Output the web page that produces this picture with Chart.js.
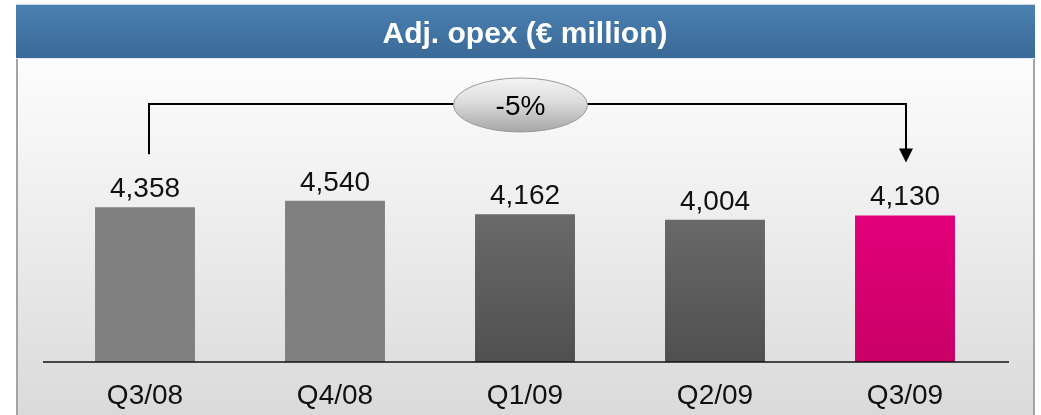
<!DOCTYPE html>
<html><head><meta charset="utf-8">
<script src="https://cdn.jsdelivr.net/npm/chart.js@4"></script>
<style>html,body{margin:0;padding:0;background:#fff;overflow:hidden}#wrap{width:1041px;height:415px;position:relative}</style>
</head><body><div id="wrap"><canvas id="c" width="1041" height="415"></canvas></div>
<script>
const categories = ['Q3/08', 'Q4/08', 'Q1/09', 'Q2/09', 'Q3/09'];
const opexValues = [4358, 4540, 4162, 4004, 4130];
const valueLabels = ['4,358', '4,540', '4,162', '4,004', '4,130'];
const barKinds = ['light', 'light', 'dark', 'dark', 'highlight'];
const changeLabel = '-5%';
const titleText = 'Adj. opex (\u20AC million)';

const LABEL_FAMILY = '"Liberation Sans", Arial, sans-serif';
const LABEL_FONT = '28px ' + LABEL_FAMILY;

function barColor(ctx) {
  const chart = ctx.chart;
  const area = chart.chartArea;
  const kind = barKinds[ctx.dataIndex];
  if (kind === 'light') return '#808080';
  if (!area) return kind === 'dark' ? '#5e5e5e' : '#d8006f';
  const g = chart.ctx.createLinearGradient(0, area.bottom - 150, 0, area.bottom);
  if (kind === 'dark') { g.addColorStop(0, '#6a6a6a'); g.addColorStop(1, '#505050'); }
  else { g.addColorStop(0, '#e3007b'); g.addColorStop(1, '#c90066'); }
  return g;
}

const backgroundPlugin = {
  id: 'bg',
  beforeDraw(chart) {
    const ctx = chart.ctx;
    const W = chart.width, H = chart.height;
    ctx.save();
    ctx.fillStyle = '#ffffff';
    ctx.fillRect(0, 0, W, H);
    // panel
    const pg = ctx.createLinearGradient(0, 59, 0, H);
    pg.addColorStop(0, '#fdfdfd');
    pg.addColorStop(1, '#dadada');
    ctx.fillStyle = pg;
    ctx.fillRect(17, 59, 1017, H - 59);
    ctx.fillStyle = '#a4a4a4';
    ctx.fillRect(16, 59, 2, H - 59);
    ctx.fillRect(1033, 59, 2, H - 59);
    // title bar
    const tg = ctx.createLinearGradient(0, 4, 0, 59);
    tg.addColorStop(0, '#4a80b2');
    tg.addColorStop(1, '#3a6996');
    ctx.fillStyle = tg;
    ctx.fillRect(16, 4, 1019, 55);
    ctx.fillStyle = '#c9d5e1';
    ctx.fillRect(16, 4, 1019, 1);
    ctx.fillStyle = '#e6ecf2';
    ctx.fillRect(16, 58, 1019, 1);
    ctx.fillStyle = '#ffffff';
    ctx.font = 'bold 30px "Liberation Sans", Arial, sans-serif';
    ctx.textAlign = 'center';
    ctx.textBaseline = 'alphabetic';
    ctx.fillText(titleText, 525, 43);
    ctx.restore();
  },
  afterDatasetsDraw(chart) {
    const ctx = chart.ctx;
    const area = chart.chartArea;
    const meta = chart.getDatasetMeta(0);
    const y0 = chart.scales.y.getPixelForValue(0);
    ctx.save();
    // baseline axis
    ctx.strokeStyle = '#111111';
    ctx.lineWidth = 1.5;
    ctx.beginPath();
    ctx.moveTo(area.left - 7, y0);
    ctx.lineTo(area.right + 9, y0);
    ctx.stroke();
    // value labels
    ctx.fillStyle = '#111111';
    ctx.font = LABEL_FONT;
    ctx.textAlign = 'center';
    ctx.textBaseline = 'alphabetic';
    meta.data.forEach((bar, i) => {
      ctx.fillText(valueLabels[i], bar.x, bar.y - 10);
    });
    // change bracket from first to last bar
    const first = meta.data[0], last = meta.data[meta.data.length - 1];
    const lx = first.x + 4, rx = last.x + 1;
    const lineY = 104;
    const leftEnd = first.y - 53;
    const tipY = last.y - 53;
    ctx.strokeStyle = '#000000';
    ctx.lineWidth = 2;
    ctx.beginPath();
    ctx.moveTo(lx, leftEnd);
    ctx.lineTo(lx, lineY);
    ctx.lineTo(rx, lineY);
    ctx.lineTo(rx, tipY - 12);
    ctx.stroke();
    ctx.fillStyle = '#000000';
    ctx.beginPath();
    ctx.moveTo(rx - 7, tipY - 14);
    ctx.lineTo(rx + 7, tipY - 14);
    ctx.lineTo(rx, tipY);
    ctx.closePath();
    ctx.fill();
    // ellipse
    const ex = (lx + rx) / 2 - 7, ey = 105, erx = 67, ery = 27;
    const eg = ctx.createLinearGradient(0, ey - ery, 0, ey + ery);
    eg.addColorStop(0, '#f4f4f4');
    eg.addColorStop(0.45, '#dcdcdc');
    eg.addColorStop(1, '#a6a6a6');
    ctx.fillStyle = eg;
    ctx.beginPath();
    ctx.ellipse(ex, ey, erx, ery, 0, 0, Math.PI * 2);
    ctx.fill();
    ctx.strokeStyle = '#9a9a9a';
    ctx.lineWidth = 1;
    ctx.stroke();
    ctx.fillStyle = '#000000';
    ctx.font = '28px ' + LABEL_FAMILY;
    ctx.fillText(changeLabel, ex, ey + 10);
    ctx.restore();
  }
};

new Chart(document.getElementById('c'), {
  type: 'bar',
  data: {
    labels: categories,
    datasets: [{
      data: opexValues,
      backgroundColor: barColor,
      borderWidth: 0,
      categoryPercentage: 1,
      barPercentage: 0.526
    }]
  },
  options: {
    responsive: false,
    animation: false,
    devicePixelRatio: 1,
    layout: { padding: { left: 50, right: 41, top: 78, bottom: 0 } },
    plugins: { legend: { display: false }, tooltip: { enabled: false } },
    scales: {
      y: { display: false, min: 0, max: 8000 },
      x: {
        grid: { display: false, drawTicks: false },
        border: { display: false },
        afterFit(scale) { scale.height = 53; },
        ticks: {
          color: '#111111',
          font: { family: LABEL_FAMILY, size: 28 },
          padding: 17,
          maxRotation: 0,
          autoSkip: false
        }
      }
    }
  },
  plugins: [backgroundPlugin]
});
</script>
</body></html>
